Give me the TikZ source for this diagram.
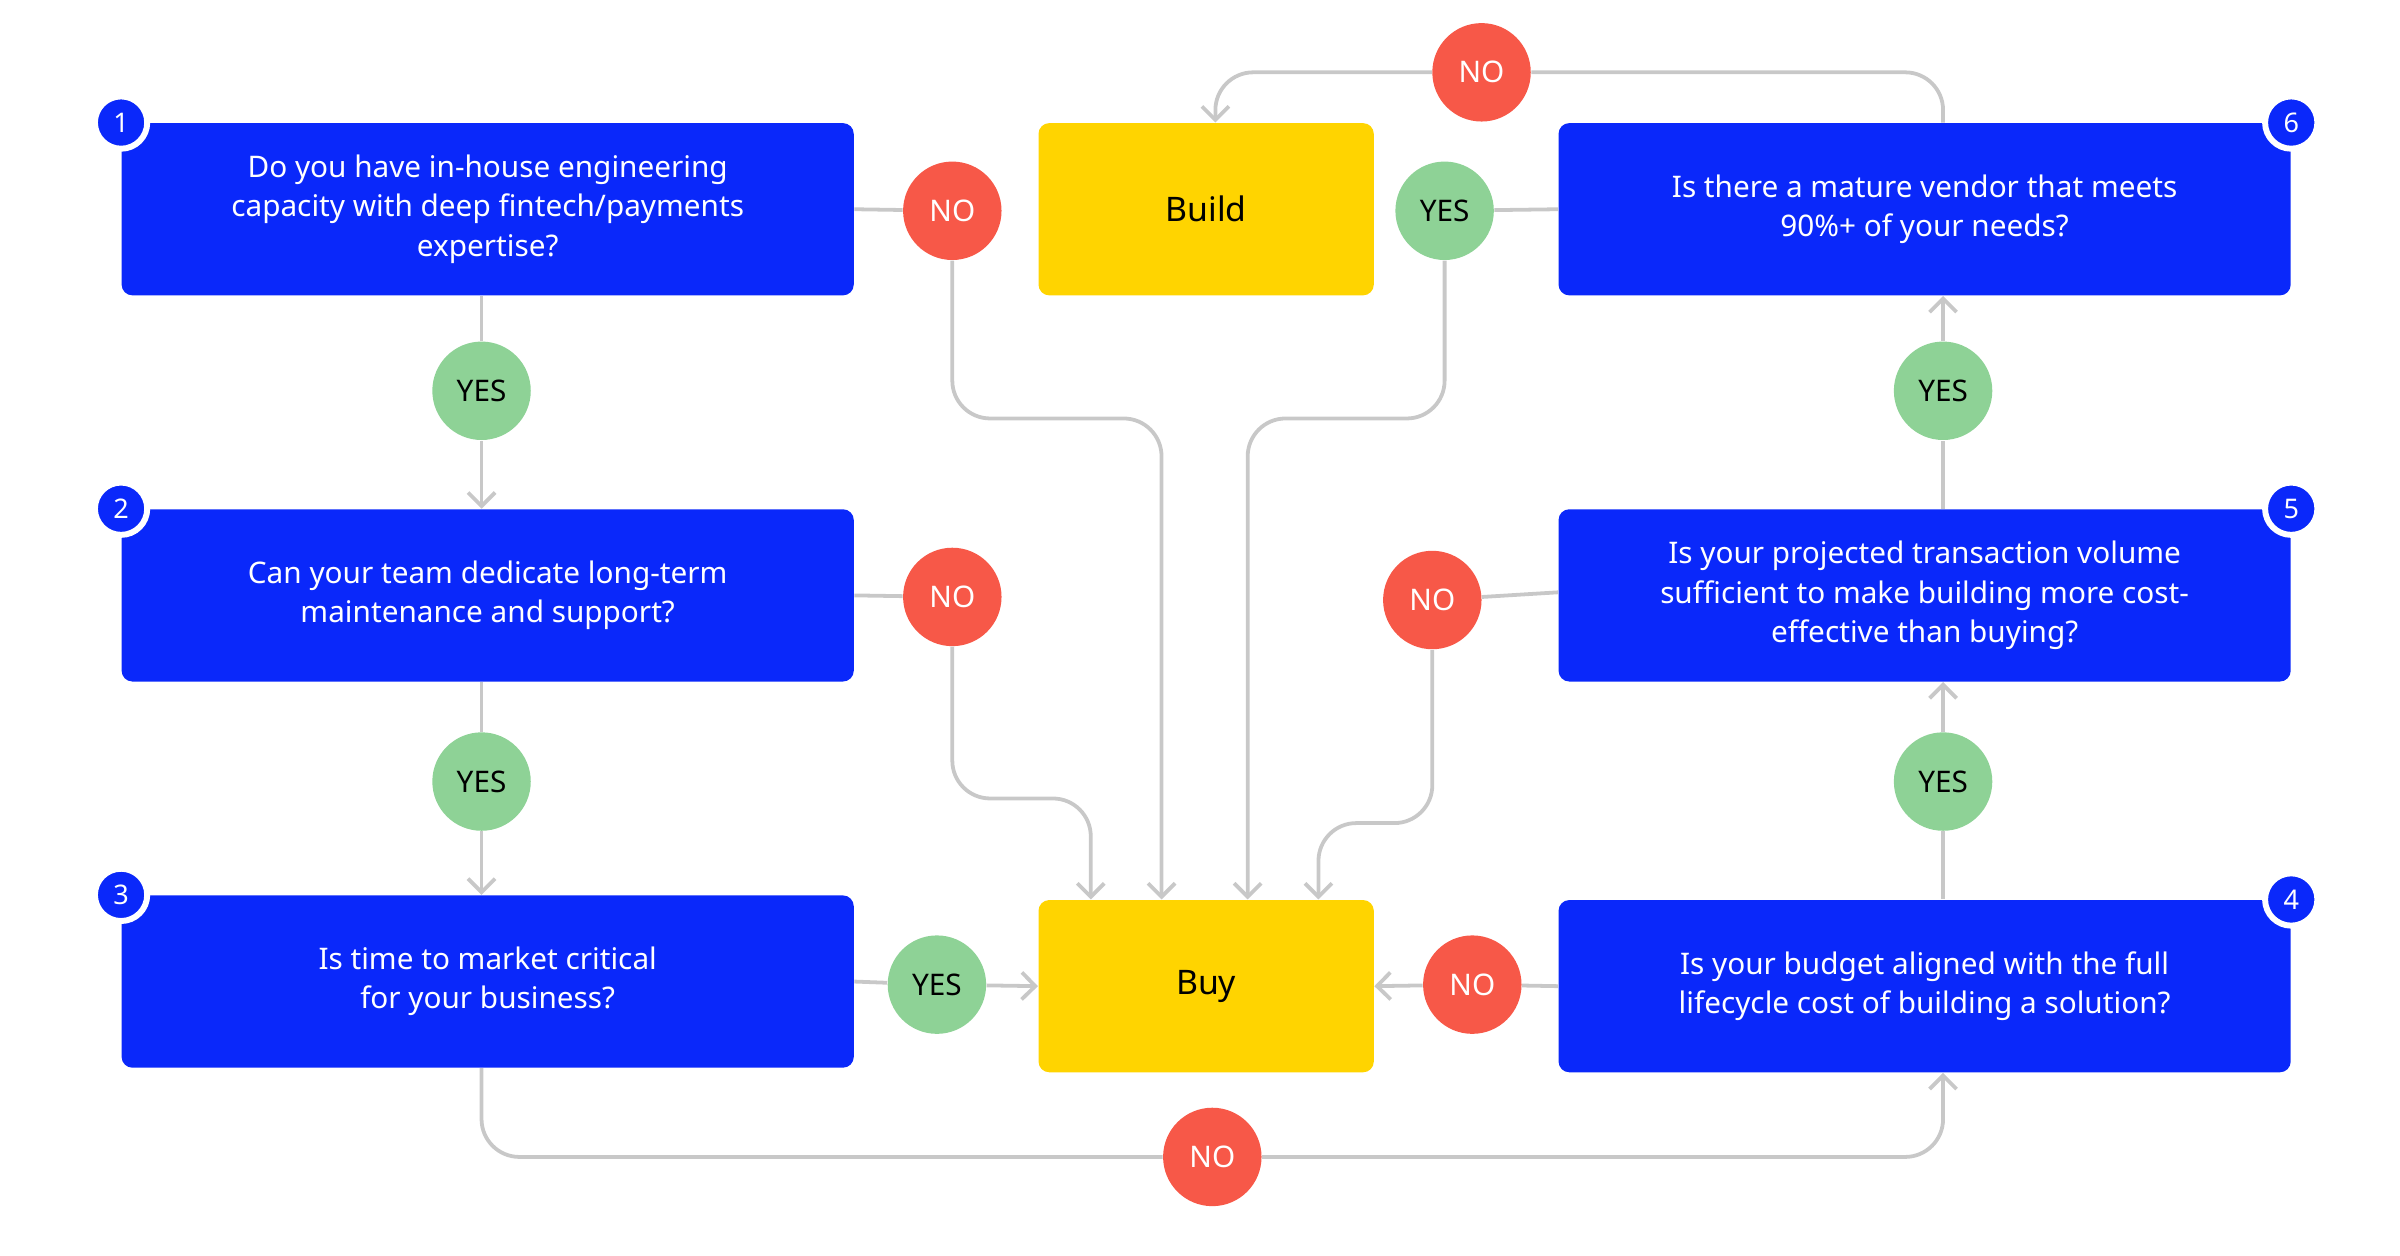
\documentclass[tikz,border=0pt]{standalone}
\usepackage{fontspec}
\setmainfont{Noto Sans}
\usetikzlibrary{arrows.meta}
\definecolor{qblue}{RGB}{10,40,250}
\definecolor{ayellow}{RGB}{255,212,0}
\definecolor{nored}{RGB}{247,88,72}
\definecolor{yesgreen}{RGB}{142,210,150}
\definecolor{lgray}{RGB}{200,200,200}
\begin{document}
\begin{tikzpicture}[x=0.02cm, y=-0.02cm,
	quest/.style={fill=qblue, rounded corners=4pt, minimum width=9.52cm, minimum height=2.24cm, text=white, align=center, font=\bfseries\fontsize{11}{14.5}\selectfont, inner sep=0pt},
	answer/.style={fill=ayellow, rounded corners=4pt, minimum width=4.36cm, minimum height=2.24cm, font=\bfseries\fontsize{12.5}{15}\selectfont, inner sep=0pt},
	no/.style={circle, fill=nored, minimum size=1.28cm, text=white, font=\bfseries\fontsize{11}{13}\selectfont, inner sep=0pt},
	yes/.style={circle, fill=yesgreen, minimum size=1.28cm, font=\bfseries\fontsize{11}{13}\selectfont, inner sep=0pt},
	num/.style={circle, fill=qblue, draw=white, line width=2.2pt, minimum size=0.68cm, text=white, font=\bfseries\fontsize{10}{12}\selectfont, inner sep=0pt},
	link/.style={draw=lgray, line width=1.4pt, rounded corners=14pt},
	arr/.style={link, -{Straight Barb[length=5pt, width=10pt]}}]
	\useasboundingbox (0,0) rectangle (1560,816);
	% Questions
	\node[quest] (Q1) at (317,136) {Do you have in-house engineering\\capacity with deep fintech/payments\\expertise?};
	\node[quest] (Q2) at (317,387) {Can your team dedicate long-term\\maintenance and support?};
	\node[quest] (Q3) at (317,638) {Is time to market critical\\for your business?};
	\node[quest] (Q4) at (1251,641) {Is your budget aligned with the full\\lifecycle cost of building a solution?};
	\node[quest] (Q5) at (1251,387) {Is your projected transaction volume\\sufficient to make building more cost-\\effective than buying?};
	\node[quest] (Q6) at (1251,136) {Is there a mature vendor that meets\\90\%+ of your needs?};
	% Answers
	\node[answer] (build) at (784,136) {Build};
	\node[answer] (buy) at (784,641) {Buy};
	% Number badges
	\node[num] (N1) at (Q1.north west) {1};
	\node[num] (N2) at (Q2.north west) {2};
	\node[num] (N3) at (Q3.north west) {3};
	\node[num] (N4) at (Q4.north east) {4};
	\node[num] (N5) at (Q5.north east) {5};
	\node[num] (N6) at (Q6.north east) {6};
	% Decisions
	\node[no] (no1) at (619,137) {NO}; \node[yes] (yes1) at (313,254) {YES};
	\node[no] (no2) at (619,388) {NO}; \node[yes] (yes2) at (313,508) {YES};
	\node[yes] (yes3) at (609,640) {YES}; \node[no] (no3) at (788,752) {NO};
	\node[no] (no4) at (957,640) {NO}; \node[yes] (yes4) at (1263,508) {YES};
	\node[no] (no5) at (931,390) {NO}; \node[yes] (yes5) at (1263,254) {YES};
	\node[yes] (yes6) at (939,137) {YES}; \node[no] (no6) at (963,47) {NO};
	% Connectors
	\begin{scope}[on background layer/.try]
	\draw[link] (Q1.east) -- (no1);
	\draw[arr] (no1.south) |- (755,272) -- (buy.north -| 755,0);
	\draw[link] (Q1.south -| yes1) -- (yes1);
	\draw[arr] (yes1) -- (Q2.north -| yes1);
	\draw[link] (Q2.east) -- (no2);
	\draw[arr] (no2.south) |- (709,519) -- (buy.north -| 709,0);
	\draw[link] (Q2.south -| yes2) -- (yes2);
	\draw[arr] (yes2) -- (Q3.north -| yes2);
	\draw[link] (Q3.east) -- (yes3);
	\draw[arr] (yes3) -- (buy.west);
	\draw[link] (Q3.south -| 313,0) |- (no3.west);
	\draw[arr] (no3.east) -| (Q4.south -| 1263,0);
	\draw[link] (Q4.west) -- (no4);
	\draw[arr] (no4) -- (buy.east);
	\draw[link] (Q4.north -| yes4) -- (yes4);
	\draw[arr] (yes4) -- (Q5.south -| yes4);
	\draw[link] (Q5.west |- 0,385) -- (no5);
	\draw[arr] (no5.south) |- (857,535) -- (buy.north -| 857,0);
	\draw[link] (Q5.north -| yes5) -- (yes5);
	\draw[arr] (yes5) -- (Q6.south -| yes5);
	\draw[link] (Q6.west) -- (yes6);
	\draw[arr] (yes6.south) |- (811,272) -- (buy.north -| 811,0);
	\draw[link] (Q6.north -| 1263,0) |- (no6.east);
	\draw[arr] (no6.west) -| (build.north -| 790,0);
	\end{scope}
\end{tikzpicture}
\end{document}
